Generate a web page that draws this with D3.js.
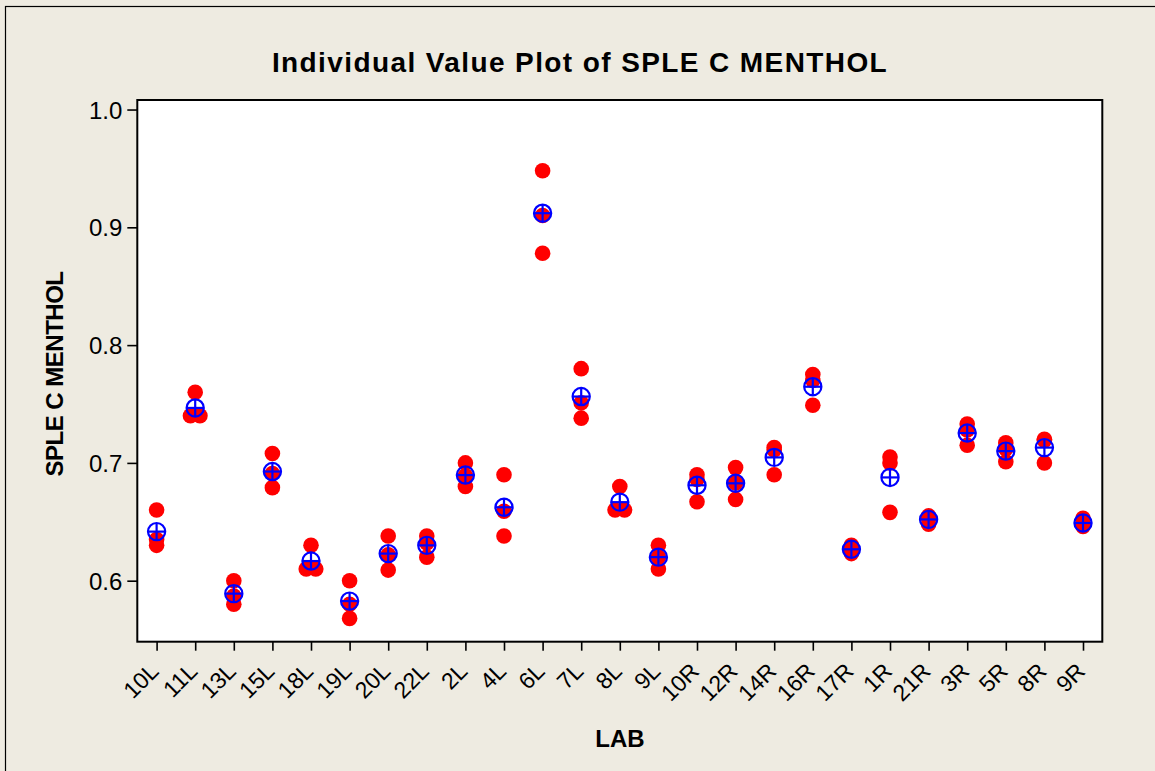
<!DOCTYPE html>
<html>
<head>
<meta charset="utf-8">
<script src="https://cdn.jsdelivr.net/npm/d3@7"></script>
<style>
  html, body { margin: 0; padding: 0; background: #EEEBE1; }
  svg { display: block; }
</style>
</head>
<body>
<svg id="chart" width="1155" height="771"></svg>
<script>
// ---- data ----
const labs = ["10L","11L","13L","15L","18L","19L","20L","22L","2L","4L","6L","7L","8L","9L",
              "10R","12R","14R","16R","17R","1R","21R","3R","5R","8R","9R"];
const rep1 = [0.660,0.760,0.600,0.708,0.630,0.600,0.638,0.638,0.700,0.690,0.948,0.780,0.680,0.630,
              0.690,0.696,0.713,0.775,0.630,0.705,0.655,0.733,0.717,0.720,0.653];
const rep2 = [0.635,0.740,0.587,0.691,0.610,0.580,0.622,0.632,0.689,0.659,0.910,0.751,0.660,0.620,
              0.686,0.683,0.711,0.770,0.627,0.700,0.653,0.728,0.712,0.719,0.648];
const rep3 = [0.630,0.740,0.580,0.679,0.610,0.568,0.609,0.620,0.680,0.638,0.878,0.738,0.660,0.610,
              0.667,0.669,0.690,0.749,0.623,0.658,0.648,0.715,0.701,0.700,0.646];
const yTicks = [0.6, 0.7, 0.8, 0.9, 1.0];
const titleText = "Individual Value Plot of SPLE C MENTHOL";
const xTitle = "LAB";
const yTitle = "SPLE C MENTHOL";

// ---- layout ----
const svg = d3.select("#chart");
const W = 1155, H = 771;
const plot = {left: 137.3, right: 1102.3, top: 100, bottom: 641.7};

svg.append("rect").attr("x", 0).attr("y", 0).attr("width", W).attr("height", H).attr("fill", "#EEEBE1");
svg.append("rect").attr("x", 5.5).attr("y", 6.5).attr("width", W + 20).attr("height", H + 20)
   .attr("fill", "none").attr("stroke", "#000").attr("stroke-width", 1.2);

const x = d3.scalePoint().domain(labs).range([plot.left, plot.right]).padding(0.5);
const y = d3.scaleLinear().domain([0.5482, 1.0081]).range([plot.bottom, plot.top]);

// plot area
svg.append("rect").attr("x", plot.left).attr("y", plot.top)
   .attr("width", plot.right - plot.left).attr("height", plot.bottom - plot.top)
   .attr("fill", "#fff");

// individual points
const pts = [];
labs.forEach((lab, i) => {
  const vals = [rep1[i], rep2[i], rep3[i]];
  const counts = {};
  vals.forEach(v => { counts[v] = (counts[v] || 0) + 1; });
  const seen = {};
  vals.forEach(v => {
    let dx = 0;
    if (counts[v] > 1) {
      const k = seen[v] || 0; seen[v] = k + 1;
      dx = (k - (counts[v] - 1) / 2) * 9.5;
    }
    pts.push({lab, v, dx});
  });
});
svg.append("g").selectAll("circle").data(pts).join("circle")
   .attr("cx", d => x(d.lab) + d.dx).attr("cy", d => y(d.v)).attr("r", 7.8)
   .attr("fill", "#FF0000");

// mean symbols
const means = labs.map((lab, i) => ({lab, m: d3.mean([rep1[i], rep2[i], rep3[i]])}));
const mg = svg.append("g").selectAll("g").data(means).join("g")
   .attr("transform", d => `translate(${x(d.lab)},${y(d.m)})`);
const r = 8.6;
mg.append("circle").attr("r", r).attr("fill", "none").attr("stroke", "#0000FF").attr("stroke-width", 2.2);
mg.append("line").attr("x1", -r).attr("x2", r).attr("y1", 0).attr("y2", 0).attr("stroke", "#0000FF").attr("stroke-width", 2.2);
mg.append("line").attr("x1", 0).attr("x2", 0).attr("y1", -r).attr("y2", r).attr("stroke", "#0000FF").attr("stroke-width", 2.2);

// frame
svg.append("rect").attr("x", plot.left).attr("y", plot.top)
   .attr("width", plot.right - plot.left).attr("height", plot.bottom - plot.top)
   .attr("fill", "none").attr("stroke", "#000").attr("stroke-width", 2);

// y axis
const yAxis = svg.append("g").attr("transform", `translate(${plot.left},0)`)
   .call(d3.axisLeft(y).tickValues(yTicks).tickFormat(d3.format(".1f")).tickSize(10).tickPadding(5));
yAxis.select(".domain").remove();
yAxis.selectAll("line").attr("stroke", "#000").attr("stroke-width", 1.6);
yAxis.selectAll("text").attr("font-family", "Liberation Sans, Arial, sans-serif")
   .attr("font-size", 24).attr("fill", "#000").attr("dy", "0.36em");

// x axis
const xAxis = svg.append("g").attr("transform", `translate(0,${plot.bottom})`)
   .call(d3.axisBottom(x).tickSize(9).tickFormat(""));
xAxis.select(".domain").remove();
xAxis.selectAll("line").attr("stroke", "#000").attr("stroke-width", 1.6);
svg.append("g").selectAll("text").data(labs).join("text")
   .attr("transform", d => `translate(${x(d) + 3.5},${plot.bottom + 31}) rotate(-45)`)
   .attr("text-anchor", "end")
   .attr("font-family", "Liberation Sans, Arial, sans-serif")
   .attr("font-size", 23).attr("fill", "#000")
   .text(d => d);

// titles
svg.append("text").attr("x", 580).attr("y", 72).attr("text-anchor", "middle")
   .attr("font-family", "Liberation Sans, Arial, sans-serif").attr("font-weight", "bold")
   .attr("font-size", 28).attr("letter-spacing", 1.4).attr("fill", "#000")
   .text(titleText);
svg.append("text").attr("x", 620).attr("y", 747).attr("text-anchor", "middle")
   .attr("font-family", "Liberation Sans, Arial, sans-serif").attr("font-weight", "bold")
   .attr("font-size", 24).attr("fill", "#000")
   .text(xTitle);
svg.append("text").attr("transform", `translate(63,374) rotate(-90)`).attr("text-anchor", "middle")
   .attr("font-family", "Liberation Sans, Arial, sans-serif").attr("font-weight", "bold")
   .attr("font-size", 24).attr("letter-spacing", -0.5).attr("fill", "#000")
   .text(yTitle);
</script>
</body>
</html>
